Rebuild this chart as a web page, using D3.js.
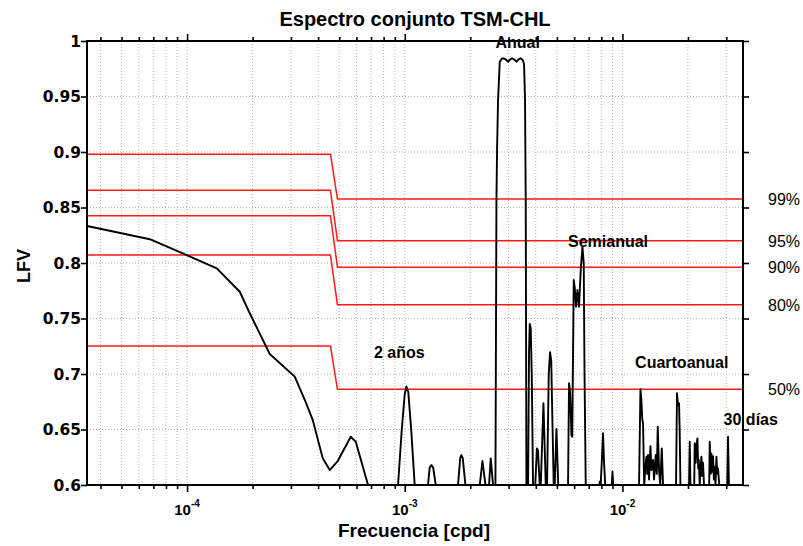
<!DOCTYPE html>
<html>
<head>
<meta charset="utf-8">
<script src="https://cdn.jsdelivr.net/npm/d3@7"></script>
<style>
  body { margin: 0; background: #fff; }
  text { font-family: "Liberation Sans", Arial, Helvetica, sans-serif; }
</style>
</head>
<body>
<svg id="chart" width="803" height="546"></svg>
<script>
// Coherence spectrum TSM-CHL: frequency (cpd) and LFV value
const freq = [
  3.47e-5, 6.742e-5, 9.554e-5, 1.369e-4, 1.747e-4, 1.941e-4, 2.398e-4, 3.124e-4, 3.473e-4, 3.779e-4,
  4.200e-4, 4.523e-4, 4.922e-4, 5.649e-4, 5.956e-4, 6.761e-4, 7.053e-4,
  9.090e-4, 9.315e-4, 9.687e-4, 1.000e-3, 1.018e-3, 1.038e-3, 1.071e-3, 1.111e-3, 1.135e-3,
  1.262e-3, 1.279e-3, 1.302e-3, 1.326e-3, 1.352e-3, 1.388e-3, 1.403e-3,
  1.733e-3, 1.757e-3, 1.798e-3, 1.821e-3, 1.847e-3, 1.900e-3, 1.927e-3,
  2.188e-3, 2.211e-3, 2.275e-3, 2.349e-3, 2.369e-3,
  2.419e-3, 2.439e-3, 2.483e-3, 2.545e-3, 2.577e-3,
  2.610e-3, 2.638e-3, 2.655e-3, 2.683e-3, 2.732e-3, 2.790e-3, 2.850e-3, 2.911e-3, 2.982e-3, 3.046e-3,
  3.111e-3, 3.184e-3, 3.259e-3, 3.329e-3, 3.400e-3, 3.483e-3, 3.532e-3, 3.569e-3, 3.596e-3, 3.622e-3, 3.653e-3,
  3.685e-3, 3.724e-3, 3.752e-3, 3.791e-3, 3.832e-3, 3.885e-3, 3.935e-3,
  3.976e-3, 4.049e-3, 4.092e-3, 4.170e-3,
  4.215e-3, 4.337e-3, 4.444e-3, 4.482e-3,
  4.505e-3, 4.587e-3, 4.650e-3, 4.709e-3, 4.760e-3, 4.836e-3,
  4.887e-3, 4.976e-3, 5.072e-3, 5.152e-3,
  5.578e-3, 5.626e-3, 5.685e-3, 5.745e-3, 5.831e-3, 5.880e-3, 5.931e-3, 5.975e-3, 6.039e-3, 6.122e-3,
  6.213e-3, 6.318e-3, 6.434e-3, 6.551e-3, 6.641e-3, 6.698e-3, 6.783e-3, 6.855e-3,
  7.783e-3, 7.866e-3, 7.933e-3, 8.035e-3, 8.146e-3, 8.232e-3, 8.337e-3, 8.426e-3,
  8.884e-3, 8.931e-3, 8.997e-3, 9.074e-3, 9.123e-3,
  1.182e-2, 1.192e-2, 1.210e-2, 1.223e-2, 1.233e-2, 1.244e-2, 1.253e-2, 1.259e-2, 1.273e-2, 1.289e-2,
  1.300e-2, 1.311e-2, 1.325e-2, 1.345e-2, 1.359e-2, 1.383e-2, 1.397e-2, 1.422e-2, 1.438e-2, 1.453e-2,
  1.473e-2, 1.492e-2, 1.516e-2, 1.537e-2, 1.548e-2,
  1.748e-2, 1.763e-2, 1.781e-2, 1.800e-2, 1.820e-2, 1.833e-2, 1.847e-2, 1.862e-2,
  2.012e-2, 2.023e-2, 2.038e-2, 2.053e-2, 2.066e-2,
  2.126e-2, 2.137e-2, 2.148e-2, 2.171e-2, 2.190e-2, 2.211e-2, 2.230e-2, 2.242e-2, 2.265e-2, 2.284e-2,
  2.306e-2, 2.326e-2, 2.345e-2, 2.370e-2, 2.388e-2,
  2.491e-2, 2.504e-2, 2.518e-2, 2.544e-2, 2.563e-2, 2.585e-2, 2.607e-2, 2.632e-2, 2.655e-2, 2.677e-2,
  2.703e-2, 2.726e-2, 2.749e-2, 2.785e-2, 2.799e-2,
  3.013e-2, 3.029e-2, 3.055e-2, 3.084e-2, 3.101e-2, 3.580e-2
];
const lfv = [
  0.8333, 0.8214, 0.8087, 0.7952, 0.7741, 0.7547, 0.718, 0.6976, 0.6766, 0.6586,
  0.624, 0.6135, 0.6216, 0.6435, 0.639, 0.601, 0.59,
  0.59, 0.6, 0.6495, 0.682, 0.6887, 0.6838, 0.6495, 0.6, 0.59,
  0.59, 0.6, 0.6158, 0.618, 0.6153, 0.6, 0.59,
  0.59, 0.6, 0.6243, 0.627, 0.6243, 0.6, 0.59,
  0.59, 0.6, 0.6216, 0.6, 0.59,
  0.59, 0.6, 0.624, 0.6, 0.59,
  0.6, 0.8568, 0.9018, 0.9468, 0.9811, 0.9841, 0.9844, 0.9833, 0.9814, 0.9833,
  0.9844, 0.9833, 0.9814, 0.9833, 0.9844, 0.9829, 0.9793, 0.9468, 0.8568, 0.6, 0.59,
  0.6, 0.72, 0.745, 0.741, 0.70, 0.6, 0.59,
  0.6, 0.633, 0.631, 0.6,
  0.6, 0.6736, 0.6, 0.59,
  0.6, 0.70, 0.7196, 0.712, 0.665, 0.6,
  0.6, 0.6505, 0.6, 0.59,
  0.59, 0.6, 0.6916, 0.685, 0.645, 0.6435, 0.72, 0.7847, 0.778, 0.7606,
  0.7757, 0.7606, 0.7937, 0.8147, 0.7997, 0.70, 0.6, 0.59,
  0.59, 0.603, 0.598, 0.62, 0.6466, 0.62, 0.6, 0.59,
  0.59, 0.6, 0.612, 0.6, 0.59,
  0.59, 0.6, 0.6862, 0.675, 0.66, 0.655, 0.62, 0.60, 0.615, 0.6255,
  0.61, 0.627, 0.605, 0.635, 0.6135, 0.6225, 0.605, 0.627, 0.61, 0.6525,
  0.6135, 0.60, 0.633, 0.6, 0.59,
  0.59, 0.6, 0.6826, 0.672, 0.6736, 0.647, 0.6, 0.59,
  0.59, 0.6, 0.639, 0.6, 0.59,
  0.59, 0.6, 0.6376, 0.62, 0.636, 0.642, 0.615, 0.6225, 0.6, 0.615,
  0.6255, 0.608, 0.62, 0.6, 0.59,
  0.59, 0.6, 0.639, 0.61, 0.6285, 0.612, 0.626, 0.605, 0.6165, 0.6,
  0.6255, 0.61, 0.615, 0.6, 0.59,
  0.59, 0.6, 0.6435, 0.6, 0.59, 0.59
];

// Significance levels: threshold below and above the break frequency
const sigLevels = ["99%", "95%", "90%", "80%", "50%"];
const sigLow    = [0.898, 0.8655, 0.8426, 0.8072, 0.7252];
const sigHigh   = [0.8577, 0.8201, 0.7961, 0.7624, 0.6862];
const sigBreak  = [4.557e-4, 4.908e-4];

const yTicks = [0.6, 0.65, 0.7, 0.75, 0.8, 0.85, 0.9, 0.95, 1];
const yTickLabels = ["0.6", "0.65", "0.7", "0.75", "0.8", "0.85", "0.9", "0.95", "1"];
const xMajor = [1e-4, 1e-3, 1e-2];
const xMajorExp = ["-4", "-3", "-2"];
const peakNames = ["Anual", "Semianual", "2 años", "Cuartoanual", "30 días"];

const svg = d3.select("#chart");
const L = 87, R = 743, T = 41, B = 485;
const x = d3.scaleLog().domain([3.47e-5, 3.58e-2]).range([L, R]);
const y = d3.scaleLinear().domain([0.6, 1]).range([B, T]);

svg.append("rect").attr("width", 803).attr("height", 546).attr("fill", "#fff");

// minor + major tick positions for the log axis
const allTicks = x.ticks();
const minorTicks = allTicks.filter(t => !xMajor.some(m => Math.abs(t / m - 1) < 1e-6));

// grid
const grid = svg.append("g").attr("stroke", "#b4b4b4").attr("stroke-width", 1)
  .attr("stroke-dasharray", "1,2");
grid.selectAll("line.v").data(allTicks).join("line")
  .attr("x1", d => x(d)).attr("x2", d => x(d)).attr("y1", T).attr("y2", B);
grid.selectAll("line.h").data(yTicks.slice(1, -1)).join("line")
  .attr("x1", L).attr("x2", R).attr("y1", d => y(d)).attr("y2", d => y(d));

// clip for data
svg.append("clipPath").attr("id", "plotclip").append("rect")
  .attr("x", L).attr("y", T).attr("width", R - L).attr("height", B - T);

// significance lines
const sigLine = d3.line().x(d => x(d[0])).y(d => y(d[1]));
svg.append("g").attr("clip-path", "url(#plotclip)")
  .selectAll("path").data(sigLevels.map((s, i) => [
    [x.domain()[0], sigLow[i]], [sigBreak[0], sigLow[i]],
    [sigBreak[1], sigHigh[i]], [x.domain()[1], sigHigh[i]]
  ])).join("path")
  .attr("d", sigLine).attr("fill", "none").attr("stroke", "#ff1a1a").attr("stroke-width", 1.5);

// spectrum curve
const pts = freq.map((f, i) => [f, lfv[i]]);
svg.append("path").attr("clip-path", "url(#plotclip)")
  .datum(pts)
  .attr("d", d3.line().x(d => x(d[0])).y(d => y(d[1])))
  .attr("fill", "none").attr("stroke", "#000").attr("stroke-width", 1.9)
  .attr("stroke-linejoin", "round");

// axes ticks
function styleAxis(g) {
  g.select(".domain").remove();
  g.selectAll(".tick line").attr("stroke", "#000").attr("stroke-width", 1.6);
}
svg.append("g").attr("transform", `translate(0,${B})`)
  .call(d3.axisBottom(x).tickValues(minorTicks).tickSize(4).tickFormat("")).call(styleAxis);
svg.append("g").attr("transform", `translate(0,${B})`)
  .call(d3.axisBottom(x).tickValues(xMajor).tickSize(7).tickFormat("")).call(styleAxis);
svg.append("g").attr("transform", `translate(0,${T})`)
  .call(d3.axisTop(x).tickValues(minorTicks).tickSize(4).tickFormat("")).call(styleAxis);
svg.append("g").attr("transform", `translate(0,${T})`)
  .call(d3.axisTop(x).tickValues(xMajor).tickSize(7).tickFormat("")).call(styleAxis);
svg.append("g").attr("transform", `translate(${L},0)`)
  .call(d3.axisLeft(y).tickValues(yTicks).tickSize(6).tickFormat("")).call(styleAxis);
svg.append("g").attr("transform", `translate(${R},0)`)
  .call(d3.axisRight(y).tickValues(yTicks).tickSize(6).tickFormat("")).call(styleAxis);

// frame
svg.append("rect").attr("x", L).attr("y", T).attr("width", R - L).attr("height", B - T)
  .attr("fill", "none").attr("stroke", "#000").attr("stroke-width", 2);

// y tick labels
svg.append("g").selectAll("text").data(yTicks).join("text")
  .attr("x", L - 6).attr("y", d => y(d) + 5.5)
  .attr("text-anchor", "end")
  .style("font-family", "'DejaVu Sans', sans-serif")
  .attr("font-weight", "bold").attr("font-size", 15.5)
  .text((d, i) => yTickLabels[i]);

// x tick labels (powers of ten)
const xl = svg.append("g").selectAll("text").data(xMajor).join("text")
  .attr("x", d => x(d)).attr("y", B + 30)
  .attr("text-anchor", "middle").attr("font-weight", "bold").attr("font-size", 15);
xl.append("tspan").text("10");
xl.append("tspan").attr("dy", -8).attr("font-size", 10).text((d, i) => xMajorExp[i]);

// significance labels
svg.append("g").selectAll("text").data(sigLevels).join("text")
  .attr("x", 768).attr("y", (d, i) => y(sigHigh[i]) + 6)
  .attr("font-size", 16).text(d => d);

// peak annotations
const ann = [
  [3.304e-3, 0.9937], [8.589e-3, 0.814], [9.435e-4, 0.7144], [1.873e-2, 0.7054], [3.886e-2, 0.654]
];
svg.append("g").selectAll("text").data(peakNames).join("text")
  .attr("x", (d, i) => x(ann[i][0])).attr("y", (d, i) => y(ann[i][1]))
  .attr("text-anchor", "middle").attr("font-weight", "bold").attr("font-size", 16)
  .text(d => d);

// titles
svg.append("text").attr("x", (L + R) / 2).attr("y", 26)
  .attr("text-anchor", "middle").attr("font-weight", "bold").attr("font-size", 20)
  .text("Espectro conjunto TSM-CHL");
svg.append("text").attr("x", 414).attr("y", 537)
  .attr("text-anchor", "middle").attr("font-weight", "bold").attr("font-size", 19)
  .text("Frecuencia [cpd]");
svg.append("text").attr("transform", "translate(30,266) rotate(-90)")
  .attr("text-anchor", "middle").attr("font-weight", "bold").attr("font-size", 18)
  .text("LFV");
</script>
</body>
</html>
